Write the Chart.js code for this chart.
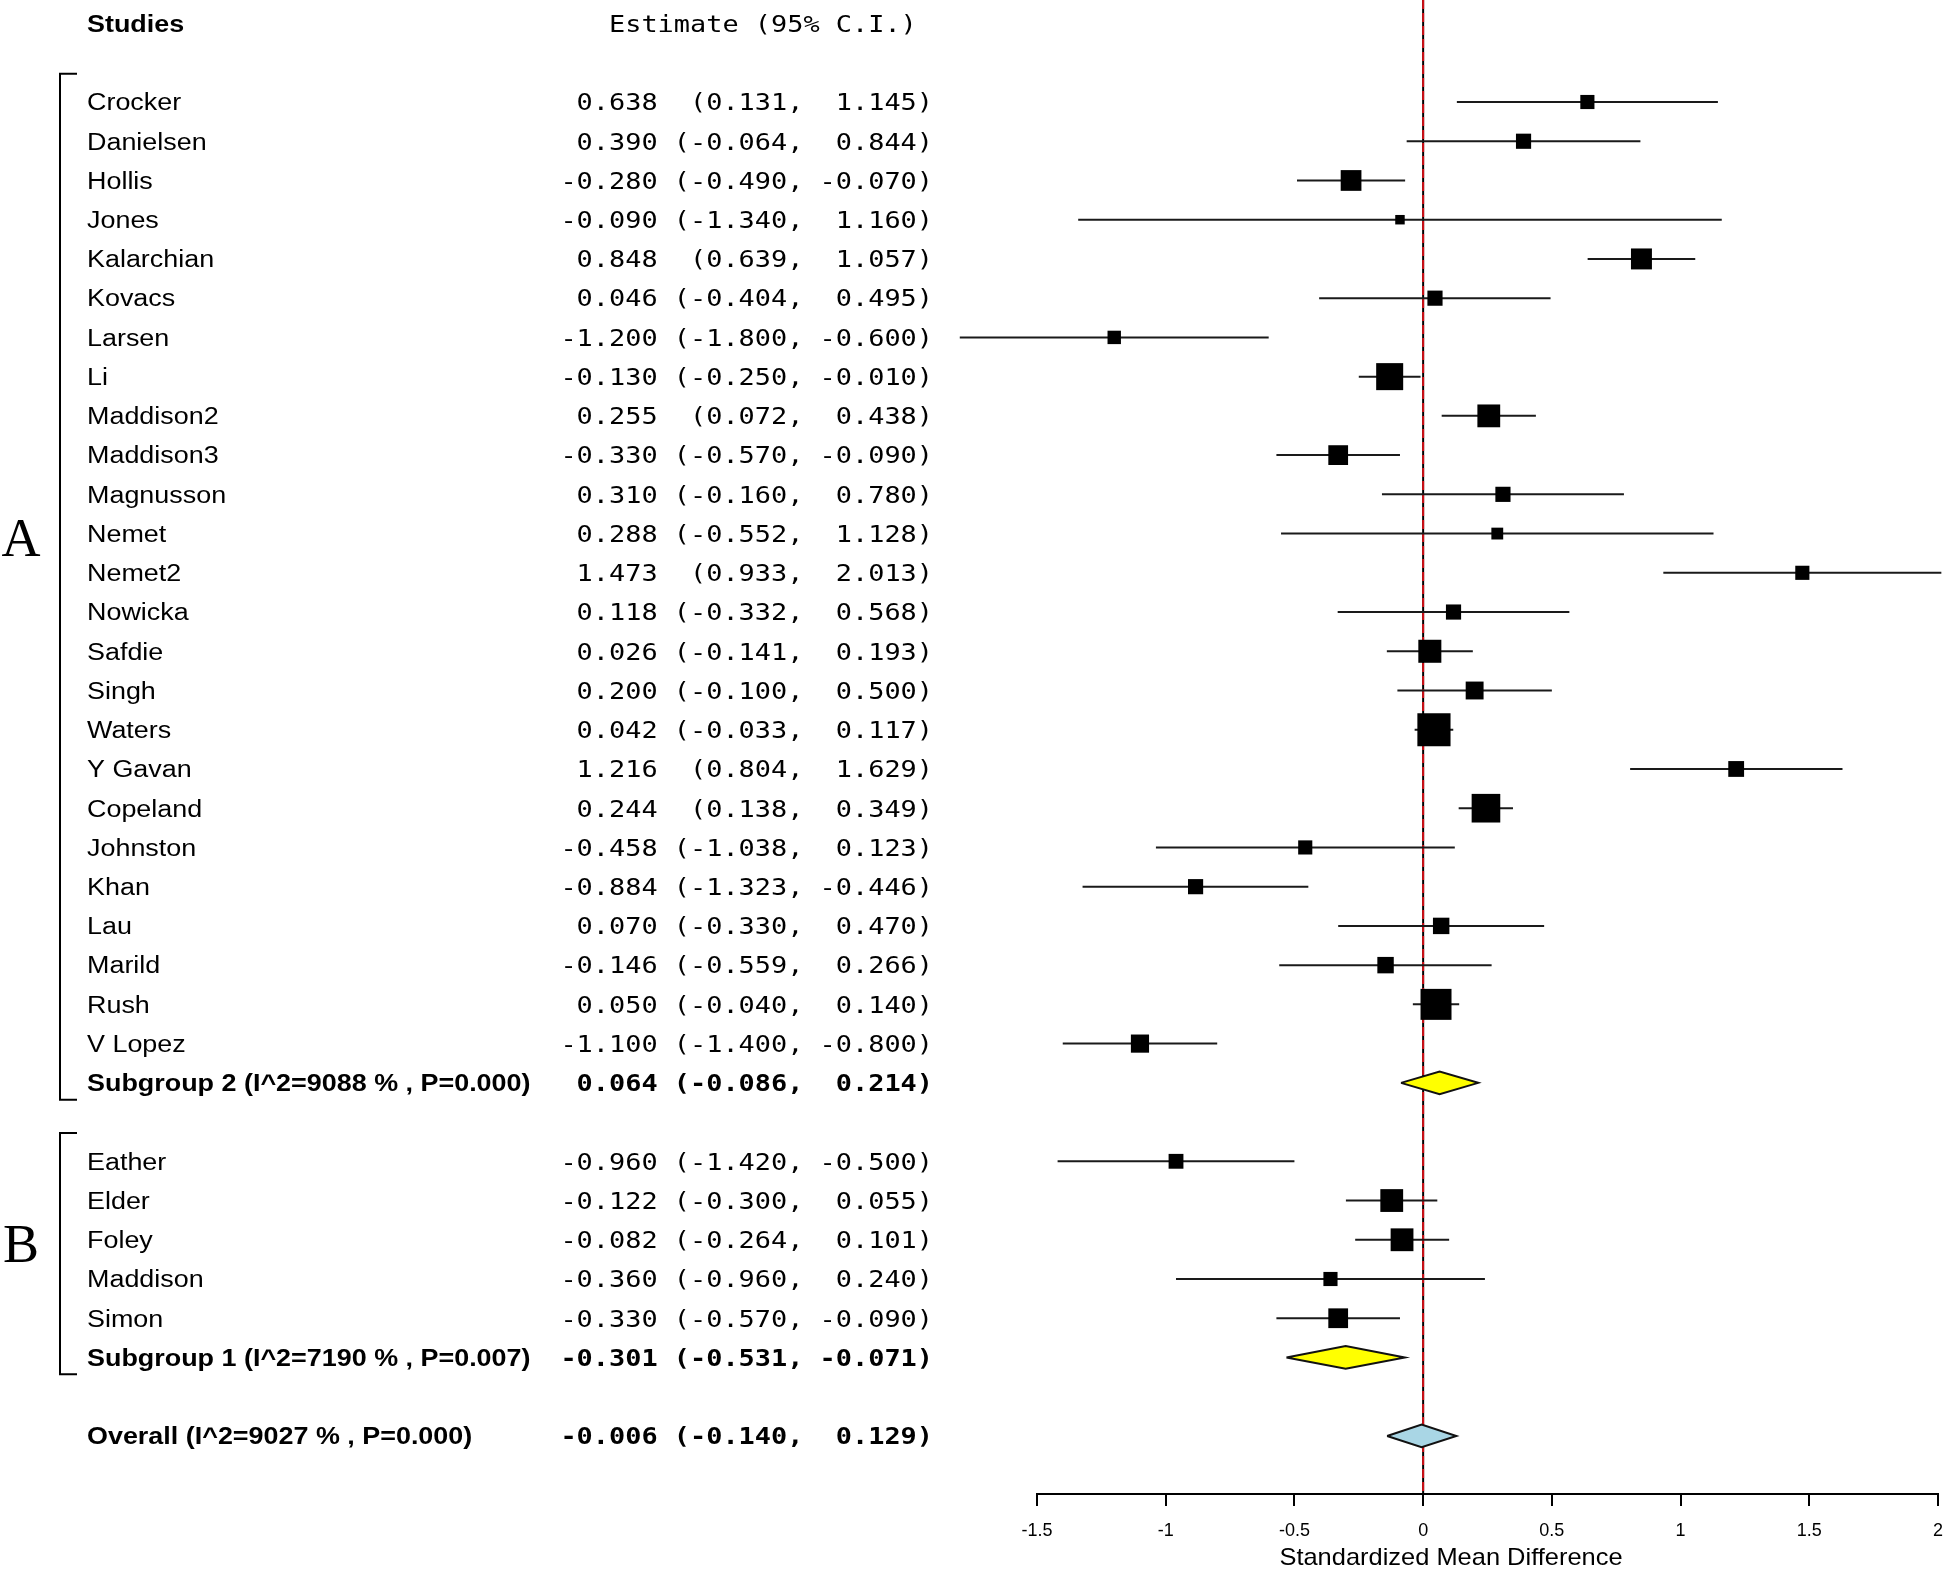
<!DOCTYPE html>
<html>
<head>
<meta charset="utf-8">
<script src="https://cdn.jsdelivr.net/npm/chart.js@4.4.1/dist/chart.umd.min.js"></script>
<style>
  html, body { margin: 0; padding: 0; background: #fff; }
  #wrap { width: 1946px; height: 1570px; position: relative; }
</style>
</head>
<body>
<div id="wrap"><canvas id="forest"></canvas></div>
<script>
'use strict';

// Studies, in plotted order (group A first, then group B)
var studyNames = ['Crocker', 'Danielsen', 'Hollis', 'Jones', 'Kalarchian', 'Kovacs', 'Larsen', 'Li',
  'Maddison2', 'Maddison3', 'Magnusson', 'Nemet', 'Nemet2', 'Nowicka', 'Safdie', 'Singh', 'Waters',
  'Y Gavan', 'Copeland', 'Johnston', 'Khan', 'Lau', 'Marild', 'Rush', 'V Lopez',
  'Eather', 'Elder', 'Foley', 'Maddison', 'Simon'];
var estimates = [0.638, 0.390, -0.280, -0.090, 0.848, 0.046, -1.200, -0.130,
  0.255, -0.330, 0.310, 0.288, 1.473, 0.118, 0.026, 0.200, 0.042,
  1.216, 0.244, -0.458, -0.884, 0.070, -0.146, 0.050, -1.100,
  -0.960, -0.122, -0.082, -0.360, -0.330];
var lowerCI = [0.131, -0.064, -0.490, -1.340, 0.639, -0.404, -1.800, -0.250,
  0.072, -0.570, -0.160, -0.552, 0.933, -0.332, -0.141, -0.100, -0.033,
  0.804, 0.138, -1.038, -1.323, -0.330, -0.559, -0.040, -1.400,
  -1.420, -0.300, -0.264, -0.960, -0.570];
var upperCI = [1.145, 0.844, -0.070, 1.160, 1.057, 0.495, -0.600, -0.010,
  0.438, -0.090, 0.780, 1.128, 2.013, 0.568, 0.193, 0.500, 0.117,
  1.629, 0.349, 0.123, -0.446, 0.470, 0.266, 0.140, -0.800,
  -0.500, 0.055, 0.101, 0.240, -0.090];
// relative study weights (drawn as square area)
var weights = [2.0, 2.3, 4.3, 0.9, 4.4, 2.3, 1.8, 7.3,
  5.2, 3.9, 2.3, 1.4, 2.0, 2.3, 5.3, 3.2, 11.0,
  2.5, 8.2, 2.0, 2.3, 2.7, 2.7, 9.6, 3.3,
  2.2, 5.2, 5.2, 2.0, 3.9];

var groupLetters = ['A', 'B'];
var groupSizes = [25, 5];

var summaryLabels = ['Subgroup 2 (I^2=9088 % , P=0.000)', 'Subgroup 1 (I^2=7190 % , P=0.007)',
  'Overall (I^2=9027 % , P=0.000)'];
var summaryEst = [0.064, -0.301, -0.006];
var summaryLo = [-0.086, -0.531, -0.140];
var summaryHi = [0.214, -0.071, 0.129];
var summaryColors = ['#ffff00', '#ffff00', '#a9d6e5'];

var xTickValues = [-1.5, -1, -0.5, 0, 0.5, 1, 1.5, 2];
var xTitle = 'Standardized Mean Difference';

// ---- row layout ----
var studyRow = [];
var summaryRow = [];
(function() {
  var r = 0, s = 0;
  groupSizes.forEach(function(n, g) {
    for (var k = 0; k < n; k++) studyRow[s++] = r++;
    summaryRow[g] = r++;
    r++;
  });
  summaryRow[groupSizes.length] = r;
})();

var Y_MIN = -2.6;
var Y_MAX = 35.48;
var DIAMOND_HALF = 0.29;
var SANS = '"Liberation Sans", Arial, sans-serif';
var MONO = '"DejaVu Sans Mono", monospace';
var STRETCH = 1.17;

function pad(str, n) {
  while (str.length < n) str = ' ' + str;
  return str;
}

function ciText(est, lo, hi) {
  return pad(est.toFixed(3), 6) + ' ' + pad('(' + lo.toFixed(3), 7) + ',' + pad(hi.toFixed(3), 7) + ')';
}

function drawStretched(ctx, str, x, y, font, align, sx) {
  ctx.save();
  ctx.font = font;
  ctx.textAlign = align;
  ctx.textBaseline = 'alphabetic';
  ctx.translate(x, y);
  ctx.scale(sx, 1);
  ctx.fillText(str, 0, 0);
  ctx.restore();
}

function drawMono(ctx, str, rightX, y, bold) {
  var cw = 16.2;
  var left = rightX - str.length * cw;
  var font = (bold ? 'bold ' : '') + '23px ' + MONO;
  for (var i = 0; i < str.length; i++) {
    if (str[i] === ' ') continue;
    drawStretched(ctx, str[i], left + (i + 0.5) * cw, y, font, 'center', STRETCH);
  }
}

var textPlugin = {
  id: 'forestText',
  afterDraw: function(chart) {
    var ctx = chart.ctx;
    var ys = chart.scales.y;
    var area = chart.chartArea;
    var nameX = 87, monoRight = 933;
    var capOff = 8.3;

    ctx.save();
    ctx.fillStyle = '#000';

    // headers
    var hy = ys.getPixelForValue(-2) + capOff;
    drawStretched(ctx, 'Studies', nameX, hy, 'bold 23px ' + SANS, 'left', STRETCH);
    drawMono(ctx, 'Estimate (95% C.I.)', monoRight - 16.2, hy, false);

    // study rows
    studyNames.forEach(function(name, i) {
      var y = ys.getPixelForValue(studyRow[i]) + capOff;
      drawStretched(ctx, name, nameX, y, '23px ' + SANS, 'left', STRETCH);
      drawMono(ctx, ciText(estimates[i], lowerCI[i], upperCI[i]), monoRight, y, false);
    });

    // summary rows
    summaryLabels.forEach(function(lab, i) {
      var y = ys.getPixelForValue(summaryRow[i]) + capOff;
      drawStretched(ctx, lab, nameX, y, 'bold 23px ' + SANS, 'left', STRETCH);
      drawMono(ctx, ciText(summaryEst[i], summaryLo[i], summaryHi[i]), monoRight, y, true);
    });

    // group brackets and letters
    ctx.strokeStyle = '#000';
    ctx.lineWidth = 2;
    var first = 0;
    var letterRows = [11, 29];
    groupSizes.forEach(function(n, g) {
      var top = ys.getPixelForValue(studyRow[first] - 0.72);
      var bot = ys.getPixelForValue(summaryRow[g] + 0.43);
      ctx.beginPath();
      ctx.moveTo(77, top);
      ctx.lineTo(60, top);
      ctx.lineTo(60, bot);
      ctx.lineTo(77, bot);
      ctx.stroke();
      var ly = ys.getPixelForValue(letterRows[g]) + 4 + 18;
      drawStretched(ctx, groupLetters[g], 21, ly, '54px "Liberation Serif", serif', 'center', 1);
      first += n;
    });

    // x axis title
    drawStretched(ctx, xTitle, 1451, 1565, '24px ' + SANS, 'center', 1.06);
    ctx.restore();
  }
};

// ---- datasets ----
var datasets = [];

// squares
datasets.push({
  data: studyNames.map(function(n, i) { return { x: estimates[i], y: studyRow[i] }; }),
  showLine: false,
  pointStyle: 'rect',
  pointRadius: weights.map(function(w) { return 10 * Math.sqrt(w) / (2 * Math.SQRT1_2); }),
  backgroundColor: '#000',
  borderWidth: 0,
  pointBorderWidth: 0,
  clip: false,
  order: 1
});

// summary diamonds
summaryEst.forEach(function(est, i) {
  var r = summaryRow[i];
  datasets.push({
    data: [
      { x: summaryLo[i], y: r }, { x: est, y: r - DIAMOND_HALF },
      { x: summaryHi[i], y: r }, { x: est, y: r + DIAMOND_HALF }, { x: summaryLo[i], y: r }
    ],
    borderColor: '#111',
    borderWidth: 2,
    backgroundColor: summaryColors[i],
    fill: 'shape',
    pointRadius: 0,
    tension: 0,
    clip: false,
    order: 1
  });
});

// confidence interval lines
studyNames.forEach(function(n, i) {
  datasets.push({
    data: [{ x: lowerCI[i], y: studyRow[i] }, { x: upperCI[i], y: studyRow[i] }],
    borderColor: '#1a1a1a',
    borderWidth: 2,
    pointRadius: 0,
    fill: false,
    clip: false,
    order: 2
  });
});

// line of no effect (black + red dashed)
datasets.push({
  data: [{ x: 0, y: Y_MIN }, { x: 0, y: Y_MAX }],
  borderColor: '#d10f16',
  borderWidth: 2,
  borderDash: [9, 4],
  pointRadius: 0,
  fill: false,
  clip: false,
  order: 3
});
datasets.push({
  data: [{ x: 0, y: Y_MIN }, { x: 0, y: Y_MAX }],
  borderColor: '#000',
  borderWidth: 2,
  pointRadius: 0,
  fill: false,
  clip: false,
  order: 4
});

new Chart(document.getElementById('forest'), {
  type: 'line',
  data: { datasets: datasets },
  plugins: [textPlugin],
  options: {
    responsive: true,
    maintainAspectRatio: false,
    animation: false,
    events: [],
    layout: { autoPadding: false, padding: { left: 1037, right: 8, top: 0, bottom: 0 } },
    plugins: { legend: { display: false }, tooltip: { enabled: false } },
    scales: {
      x: {
        type: 'linear',
        min: -1.5,
        max: 2,
        afterBuildTicks: function(s) { s.ticks = xTickValues.map(function(v) { return { value: v }; }); },
        afterFit: function(s) {
          s.height = 76;
          s.paddingLeft = 0;
          s.paddingRight = 0;
        },
        grid: { display: true, drawOnChartArea: false, drawTicks: true, tickLength: 12, color: '#000', lineWidth: 2 },
        border: { display: true, color: '#000', width: 2 },
        ticks: {
          color: '#000',
          padding: 14,
          maxRotation: 0,
          autoSkip: false,
          font: { family: SANS, size: 18 },
          callback: function(v) { return String(v); }
        }
      },
      y: {
        type: 'linear',
        reverse: true,
        min: Y_MIN,
        max: Y_MAX,
        display: false
      }
    }
  }
});
</script>
</body>
</html>
